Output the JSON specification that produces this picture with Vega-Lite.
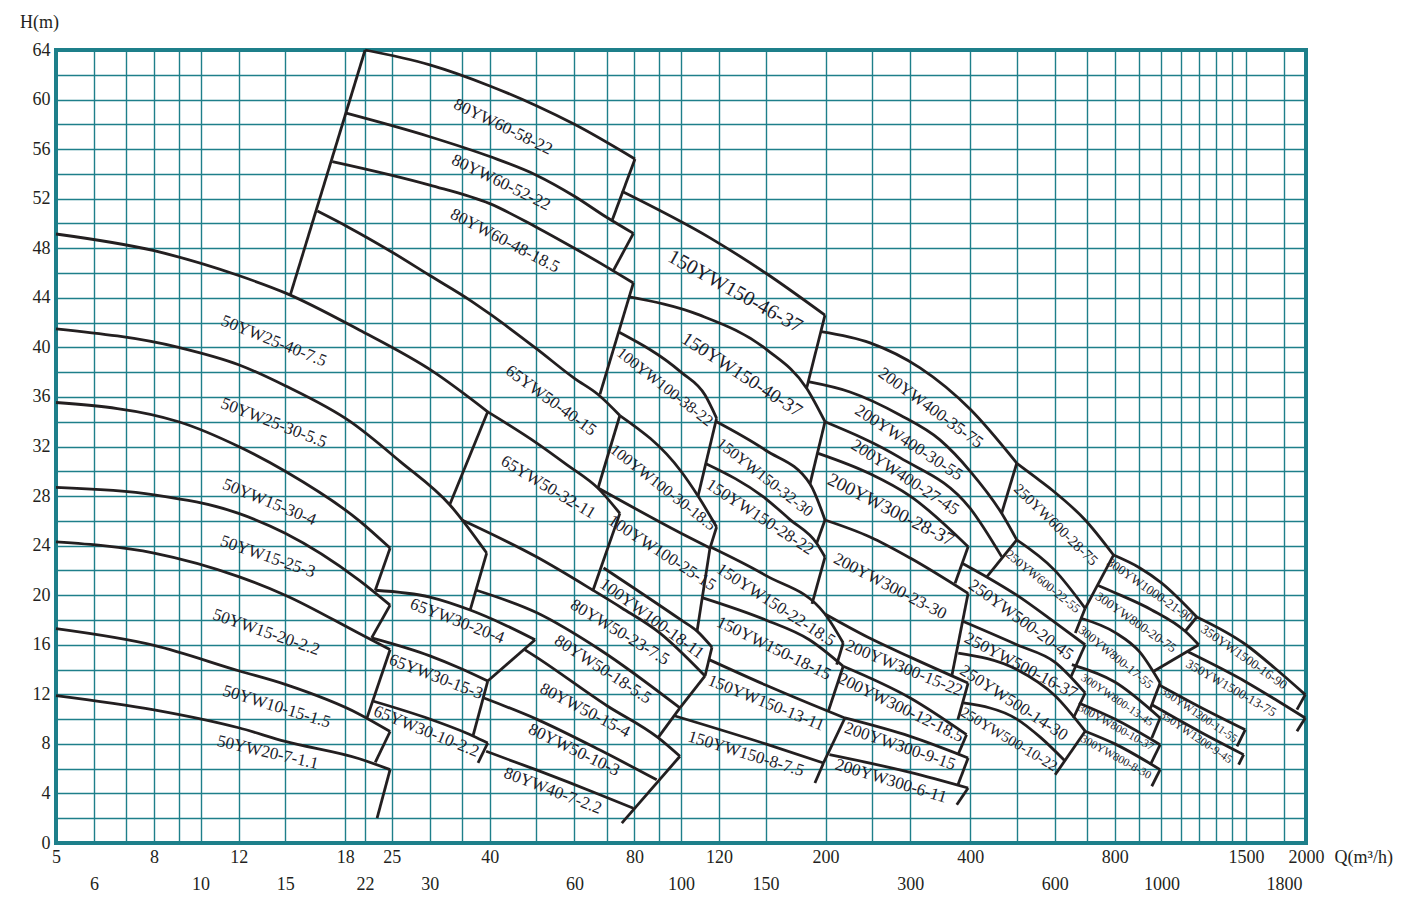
{
"$schema":"https://vega.github.io/schema/vega-lite/v6.json",
"width":1250,"height":793,
"autosize":{"type":"none"},
"padding":{"left":56,"top":50,"right":106,"bottom":75},
"background":"white",
"config":{"font":"Liberation Serif","view":{"stroke":"#1e7f8a","strokeWidth":4},"text":{"font":"Liberation Serif","color":"#1c1c2a"}},
"datasets":{
"lines":[
{"id":"C1","k":"c","q":5,"h":49.15},{"id":"C1","k":"c","q":8,"h":47.8},{"id":"C1","k":"c","q":12,"h":45.8},{"id":"C1","k":"c","q":15,"h":44.4},{"id":"C1","k":"c","q":21.4,"h":41.4},{"id":"C1","k":"c","q":30.6,"h":38.0},{"id":"C1","k":"c","q":39.6,"h":34.8},
{"id":"C2","k":"c","q":5,"h":41.5},{"id":"C2","k":"c","q":9,"h":40.0},{"id":"C2","k":"c","q":12,"h":38.6},{"id":"C2","k":"c","q":15,"h":36.9},{"id":"C2","k":"c","q":20.5,"h":34.0},{"id":"C2","k":"c","q":26,"h":30.8},{"id":"C2","k":"c","q":33,"h":27.3},{"id":"C2","k":"c","q":39.4,"h":23.4},
{"id":"C3","k":"c","q":5,"h":35.55},{"id":"C3","k":"c","q":9,"h":34.0},{"id":"C3","k":"c","q":12,"h":32.0},{"id":"C3","k":"c","q":15,"h":30.0},{"id":"C3","k":"c","q":21.4,"h":26.0},{"id":"C3","k":"c","q":24.8,"h":23.8},
{"id":"C4","k":"c","q":5,"h":28.7},{"id":"C4","k":"c","q":8,"h":28.1},{"id":"C4","k":"c","q":12,"h":26.6},{"id":"C4","k":"c","q":15,"h":25.0},{"id":"C4","k":"c","q":21.4,"h":21.2},{"id":"C4","k":"c","q":24.8,"h":19.2},
{"id":"C5","k":"c","q":5,"h":24.3},{"id":"C5","k":"c","q":8,"h":23.4},{"id":"C5","k":"c","q":12,"h":21.5},{"id":"C5","k":"c","q":15,"h":20.0},{"id":"C5","k":"c","q":21.4,"h":16.9},{"id":"C5","k":"c","q":24.8,"h":15.6},
{"id":"C6","k":"c","q":5,"h":17.3},{"id":"C6","k":"c","q":8,"h":15.95},{"id":"C6","k":"c","q":12,"h":13.9},{"id":"C6","k":"c","q":15,"h":12.8},{"id":"C6","k":"c","q":21.4,"h":10.4},{"id":"C6","k":"c","q":24.8,"h":9.0},
{"id":"C7","k":"c","q":5,"h":11.9},{"id":"C7","k":"c","q":8,"h":10.75},{"id":"C7","k":"c","q":12,"h":9.3},{"id":"C7","k":"c","q":15,"h":8.2},{"id":"C7","k":"c","q":21.4,"h":6.8},{"id":"C7","k":"c","q":24.8,"h":5.92},
{"id":"T1","k":"c","q":22,"h":64},{"id":"T1","k":"c","q":30,"h":62.8},{"id":"T1","k":"c","q":40,"h":61.1},{"id":"T1","k":"c","q":50,"h":59.5},{"id":"T1","k":"c","q":60,"h":58.0},{"id":"T1","k":"c","q":80.2,"h":55.2},
{"id":"T2","k":"c","q":20.1,"h":58.9},{"id":"T2","k":"c","q":30,"h":57.0},{"id":"T2","k":"c","q":40,"h":55.4},{"id":"T2","k":"c","q":50,"h":53.9},{"id":"T2","k":"c","q":60,"h":52.2},{"id":"T2","k":"c","q":70,"h":50.5},{"id":"T2","k":"c","q":79.6,"h":49.2},
{"id":"T3","k":"c","q":18.8,"h":55.0},{"id":"T3","k":"c","q":30,"h":53.1},{"id":"T3","k":"c","q":40,"h":51.6},{"id":"T3","k":"c","q":50,"h":49.7},{"id":"T3","k":"c","q":60,"h":48.0},{"id":"T3","k":"c","q":70,"h":46.5},{"id":"T3","k":"c","q":79.6,"h":45.2},
{"id":"A1","k":"c","q":17.5,"h":51.0},{"id":"A1","k":"c","q":20.3,"h":49.7},{"id":"A1","k":"c","q":25,"h":47.7},{"id":"A1","k":"c","q":30,"h":45.8},{"id":"A1","k":"c","q":36.4,"h":43.8},{"id":"A1","k":"c","q":40,"h":42.7},{"id":"A1","k":"c","q":50,"h":39.9},{"id":"A1","k":"c","q":60,"h":37.5},{"id":"A1","k":"c","q":67.2,"h":36.2},{"id":"A1","k":"c","q":74.6,"h":34.5},
{"id":"A2","k":"c","q":39.6,"h":34.8},{"id":"A2","k":"c","q":50,"h":32.3},{"id":"A2","k":"c","q":58,"h":30.5},{"id":"A2","k":"c","q":67.3,"h":28.6},{"id":"A2","k":"c","q":74.6,"h":26.6},
{"id":"D1","k":"c","q":23.1,"h":20.4},{"id":"D1","k":"c","q":30,"h":19.85},{"id":"D1","k":"c","q":36.4,"h":18.8},{"id":"D1","k":"c","q":43,"h":17.6},{"id":"D1","k":"c","q":49.7,"h":16.4},
{"id":"D2","k":"c","q":22.7,"h":16.55},{"id":"D2","k":"c","q":30,"h":15.1},{"id":"D2","k":"c","q":34.7,"h":14.1},{"id":"D2","k":"c","q":39.6,"h":13.07},
{"id":"D3","k":"c","q":22.9,"h":11.44},{"id":"D3","k":"c","q":30,"h":10.0},{"id":"D3","k":"c","q":36.9,"h":8.64},{"id":"D3","k":"c","q":39.6,"h":8.07},
{"id":"E1","k":"c","q":35,"h":26.07},{"id":"E1","k":"c","q":50,"h":23.1},{"id":"E1","k":"c","q":65.6,"h":20.4},{"id":"E1","k":"c","q":75.3,"h":18.97},{"id":"E1","k":"c","q":90,"h":17.0},{"id":"E1","k":"c","q":112.2,"h":13.48},
{"id":"E2","k":"c","q":37.5,"h":20.4},{"id":"E2","k":"c","q":50,"h":18.6},{"id":"E2","k":"c","q":67.8,"h":15.6},{"id":"E2","k":"c","q":99.5,"h":10.9},
{"id":"E3","k":"c","q":47.3,"h":15.6},{"id":"E3","k":"c","q":50,"h":15.0},{"id":"E3","k":"c","q":70,"h":11.1},{"id":"E3","k":"c","q":89.6,"h":8.5},{"id":"E3","k":"c","q":99.5,"h":7.0},
{"id":"E4","k":"c","q":38.9,"h":11.7},{"id":"E4","k":"c","q":50,"h":10.0},{"id":"E4","k":"c","q":67.8,"h":7.5},{"id":"E4","k":"c","q":89,"h":5.1},
{"id":"E5","k":"c","q":39.3,"h":7.4},{"id":"E5","k":"c","q":50,"h":5.9},{"id":"E5","k":"c","q":67.8,"h":3.9},{"id":"E5","k":"c","q":79.6,"h":2.8},
{"id":"F1","k":"c","q":74.2,"h":41.24},{"id":"F1","k":"c","q":100,"h":38.0},{"id":"F1","k":"c","q":112.2,"h":36.15},{"id":"F1","k":"c","q":118.6,"h":34.28},
{"id":"F2","k":"c","q":74.6,"h":34.5},{"id":"F2","k":"c","q":100,"h":30.0},{"id":"F2","k":"c","q":108.5,"h":28.0},{"id":"F2","k":"c","q":118.6,"h":25.5},
{"id":"F3","k":"c","q":67.2,"h":28.65},{"id":"F3","k":"c","q":100,"h":25.0},{"id":"F3","k":"c","q":114.9,"h":23.8},
{"id":"F4","k":"c","q":69,"h":22.2},{"id":"F4","k":"c","q":100,"h":18.0},{"id":"F4","k":"c","q":108,"h":17.1},{"id":"F4","k":"c","q":116,"h":15.8},
{"id":"G1","k":"c","q":75.3,"h":52.6},{"id":"G1","k":"c","q":114.9,"h":48.84},{"id":"G1","k":"c","q":150,"h":46.0},{"id":"G1","k":"c","q":199.4,"h":42.6},
{"id":"G2","k":"c","q":77.6,"h":44.09},{"id":"G2","k":"c","q":109.5,"h":42.6},{"id":"G2","k":"c","q":151,"h":39.8},{"id":"G2","k":"c","q":182.6,"h":36.7},{"id":"G2","k":"c","q":199.4,"h":34.0},
{"id":"G3","k":"c","q":118.6,"h":34.0},{"id":"G3","k":"c","q":150,"h":31.7},{"id":"G3","k":"c","q":185.6,"h":28.98},{"id":"G3","k":"c","q":199.4,"h":26.07},
{"id":"G4","k":"c","q":112.2,"h":30.65},{"id":"G4","k":"c","q":150,"h":27.8},{"id":"G4","k":"c","q":168.6,"h":26.1},{"id":"G4","k":"c","q":191.6,"h":24.19},{"id":"G4","k":"c","q":199.4,"h":23.08},
{"id":"G5","k":"c","q":114.9,"h":23.91},{"id":"G5","k":"c","q":150,"h":21.6},{"id":"G5","k":"c","q":199.4,"h":18.48},{"id":"G5","k":"c","q":217.6,"h":16.14},
{"id":"G6","k":"c","q":110.6,"h":19.8},{"id":"G6","k":"c","q":150,"h":18.0},{"id":"G6","k":"c","q":185,"h":16.4},{"id":"G6","k":"c","q":217.6,"h":14.26},
{"id":"G7","k":"c","q":114.4,"h":14.8},{"id":"G7","k":"c","q":150,"h":12.75},{"id":"G7","k":"c","q":202.6,"h":10.63},{"id":"G7","k":"c","q":219.4,"h":10.09},
{"id":"G8","k":"c","q":97.2,"h":10.25},{"id":"G8","k":"c","q":150,"h":8.0},{"id":"G8","k":"c","q":198,"h":6.46},
{"id":"H1","k":"c","q":195.6,"h":41.27},{"id":"H1","k":"c","q":247.5,"h":40.36},{"id":"H1","k":"c","q":314.5,"h":38.34},{"id":"H1","k":"c","q":400,"h":35.0},{"id":"H1","k":"c","q":500,"h":30.65},
{"id":"H2","k":"c","q":184,"h":37.23},{"id":"H2","k":"c","q":224.8,"h":36.4},{"id":"H2","k":"c","q":285.6,"h":34.54},{"id":"H2","k":"c","q":346,"h":32.53},{"id":"H2","k":"c","q":400,"h":30.0},{"id":"H2","k":"c","q":465,"h":26.61},{"id":"H2","k":"c","q":500,"h":24.46},
{"id":"H3","k":"c","q":199.4,"h":34.0},{"id":"H3","k":"c","q":285.6,"h":31.1},{"id":"H3","k":"c","q":400,"h":27.0},{"id":"H3","k":"c","q":465,"h":23.11},
{"id":"H4","k":"c","q":193,"h":31.45},{"id":"H4","k":"c","q":247.5,"h":29.8},{"id":"H4","k":"c","q":300,"h":28.0},{"id":"H4","k":"c","q":396,"h":23.91},
{"id":"H5","k":"c","q":199.4,"h":26.07},{"id":"H5","k":"c","q":247.5,"h":24.7},{"id":"H5","k":"c","q":300,"h":23.0},{"id":"H5","k":"c","q":396,"h":20.15},
{"id":"H6","k":"c","q":199.4,"h":18.48},{"id":"H6","k":"c","q":245,"h":16.6},{"id":"H6","k":"c","q":300,"h":15.0},{"id":"H6","k":"c","q":396,"h":12.91},
{"id":"H7","k":"c","q":217.6,"h":14.26},{"id":"H7","k":"c","q":300,"h":11.7},{"id":"H7","k":"c","q":393,"h":8.74},
{"id":"H8","k":"c","q":219.4,"h":10.09},{"id":"H8","k":"c","q":300,"h":8.6},{"id":"H8","k":"c","q":396,"h":6.86},
{"id":"H9","k":"c","q":203.7,"h":7.13},{"id":"H9","k":"c","q":300,"h":5.7},{"id":"H9","k":"c","q":396,"h":4.44},
{"id":"I1","k":"c","q":500,"h":30.65},{"id":"I1","k":"c","q":543,"h":29.6},{"id":"I1","k":"c","q":592,"h":28.49},{"id":"I1","k":"c","q":694,"h":26.07},{"id":"I1","k":"c","q":795,"h":23.24},
{"id":"I2","k":"c","q":500,"h":24.46},{"id":"I2","k":"c","q":600,"h":22.0},{"id":"I2","k":"c","q":694,"h":18.94},
{"id":"I3","k":"c","q":384,"h":22.6},{"id":"I3","k":"c","q":433,"h":21.47},{"id":"I3","k":"c","q":500,"h":20.0},{"id":"I3","k":"c","q":600,"h":17.8},{"id":"I3","k":"c","q":694,"h":16.0},
{"id":"I4","k":"c","q":386,"h":17.89},{"id":"I4","k":"c","q":500,"h":16.0},{"id":"I4","k":"c","q":600,"h":14.6},{"id":"I4","k":"c","q":694,"h":12.11},
{"id":"I5","k":"c","q":377.6,"h":15.33},{"id":"I5","k":"c","q":500,"h":14.0},{"id":"I5","k":"c","q":600,"h":11.9},{"id":"I5","k":"c","q":694,"h":9.02},
{"id":"I6","k":"c","q":387,"h":11.3},{"id":"I6","k":"c","q":500,"h":10.0},{"id":"I6","k":"c","q":561,"h":8.5},{"id":"I6","k":"c","q":631,"h":6.59},
{"id":"J1","k":"c","q":795,"h":23.24},{"id":"J1","k":"c","q":902,"h":22.2},{"id":"J1","k":"c","q":1000,"h":21.0},{"id":"J1","k":"c","q":1185,"h":18.24},
{"id":"J2","k":"c","q":734,"h":20.82},{"id":"J2","k":"c","q":800,"h":20.2},{"id":"J2","k":"c","q":955,"h":18.81},{"id":"J2","k":"c","q":1121,"h":17.09},{"id":"J2","k":"c","q":1196,"h":16.0},
{"id":"J3","k":"c","q":678,"h":18.16},{"id":"J3","k":"c","q":800,"h":17.0},{"id":"J3","k":"c","q":902,"h":15.4},{"id":"J3","k":"c","q":994,"h":12.91},
{"id":"J4","k":"c","q":651,"h":14.4},{"id":"J4","k":"c","q":800,"h":13.0},{"id":"J4","k":"c","q":994,"h":10.09},
{"id":"J5","k":"c","q":673,"h":11.3},{"id":"J5","k":"c","q":800,"h":10.0},{"id":"J5","k":"c","q":994,"h":7.93},
{"id":"J6","k":"c","q":694,"h":9.02},{"id":"J6","k":"c","q":800,"h":8.0},{"id":"J6","k":"c","q":994,"h":5.92},
{"id":"K1","k":"c","q":1185,"h":18.24},{"id":"K1","k":"c","q":1500,"h":16.0},{"id":"K1","k":"c","q":1724,"h":14.1},{"id":"K1","k":"c","q":1993,"h":11.97},
{"id":"K2","k":"c","q":1130,"h":15.47},{"id":"K2","k":"c","q":1500,"h":13.0},{"id":"K2","k":"c","q":1724,"h":11.6},{"id":"K2","k":"c","q":1993,"h":10.09},
{"id":"K3","k":"c","q":987,"h":12.78},{"id":"K3","k":"c","q":1200,"h":11.0},{"id":"K3","k":"c","q":1495,"h":9.14},
{"id":"K4","k":"c","q":955,"h":11.16},{"id":"K4","k":"c","q":1200,"h":9.0},{"id":"K4","k":"c","q":1483,"h":7.13},
{"id":"L80","k":"e","q":15.35,"h":44.15},{"id":"L80","k":"e","q":22.0,"h":64.0},
{"id":"Z1a","k":"e","q":39.6,"h":34.8},{"id":"Z1a","k":"e","q":33.0,"h":27.3},
{"id":"Z1b","k":"e","q":39.4,"h":23.4},{"id":"Z1b","k":"e","q":36.4,"h":18.8},
{"id":"Z2a","k":"e","q":24.8,"h":23.8},{"id":"Z2a","k":"e","q":23.1,"h":20.4},
{"id":"Z2b","k":"e","q":24.8,"h":19.2},{"id":"Z2b","k":"e","q":22.7,"h":16.55},
{"id":"Z2c","k":"e","q":24.8,"h":15.6},{"id":"Z2c","k":"e","q":22.2,"h":10.1},
{"id":"Z2d","k":"e","q":24.8,"h":9.0},{"id":"Z2d","k":"e","q":23.1,"h":6.5},
{"id":"Z2e","k":"e","q":24.8,"h":5.92},{"id":"Z2e","k":"e","q":23.3,"h":2.0},
{"id":"Z80a","k":"e","q":80.2,"h":55.2},{"id":"Z80a","k":"e","q":71.8,"h":50.2},
{"id":"Z80b","k":"e","q":79.6,"h":49.2},{"id":"Z80b","k":"e","q":72.3,"h":46.2},
{"id":"Z80c","k":"e","q":79.6,"h":45.2},{"id":"Z80c","k":"e","q":67.8,"h":36.2},
{"id":"Z65a","k":"e","q":74.6,"h":34.5},{"id":"Z65a","k":"e","q":67.2,"h":28.65},
{"id":"Z65b","k":"e","q":74.6,"h":26.6},{"id":"Z65b","k":"e","q":65.6,"h":20.4},
{"id":"Z3a","k":"e","q":49.7,"h":16.4},{"id":"Z3a","k":"e","q":39.6,"h":13.07},
{"id":"Z3b","k":"e","q":39.6,"h":13.07},{"id":"Z3b","k":"e","q":36.9,"h":8.64},
{"id":"Z3c","k":"e","q":39.6,"h":8.07},{"id":"Z3c","k":"e","q":37.8,"h":6.46},
{"id":"Z50a","k":"e","q":112.2,"h":13.48},{"id":"Z50a","k":"e","q":99.5,"h":10.9},
{"id":"Z50b","k":"e","q":99.5,"h":10.9},{"id":"Z50b","k":"e","q":89.6,"h":8.5},
{"id":"Z50c","k":"e","q":99.5,"h":7.0},{"id":"Z50c","k":"e","q":75.3,"h":1.6},
{"id":"ZFa","k":"e","q":118.6,"h":34.28},{"id":"ZFa","k":"e","q":108.5,"h":28.0},
{"id":"ZFb","k":"e","q":118.6,"h":25.5},{"id":"ZFb","k":"e","q":114.9,"h":23.8},
{"id":"ZFc","k":"e","q":114.9,"h":23.8},{"id":"ZFc","k":"e","q":108,"h":17.1},
{"id":"ZFd","k":"e","q":116,"h":15.8},{"id":"ZFd","k":"e","q":112.2,"h":13.48},
{"id":"ZG1","k":"e","q":199.4,"h":42.6},{"id":"ZG1","k":"e","q":182.6,"h":36.7},
{"id":"ZG2","k":"e","q":199.4,"h":34.0},{"id":"ZG2","k":"e","q":185.6,"h":28.98},
{"id":"ZG3","k":"e","q":199.4,"h":26.07},{"id":"ZG3","k":"e","q":191.6,"h":24.19},
{"id":"ZG4","k":"e","q":199.4,"h":23.08},{"id":"ZG4","k":"e","q":187.4,"h":19.29},
{"id":"ZG5","k":"e","q":217.6,"h":16.14},{"id":"ZG5","k":"e","q":210.9,"h":14.39},
{"id":"ZG6","k":"e","q":217.6,"h":14.26},{"id":"ZG6","k":"e","q":202.6,"h":10.63},
{"id":"ZG7","k":"e","q":219.4,"h":10.09},{"id":"ZG7","k":"e","q":198,"h":6.46},
{"id":"ZG8","k":"e","q":198,"h":6.46},{"id":"ZG8","k":"e","q":190,"h":4.84},
{"id":"ZH1","k":"e","q":500,"h":30.65},{"id":"ZH1","k":"e","q":465,"h":26.61},
{"id":"ZH2","k":"e","q":500,"h":24.46},{"id":"ZH2","k":"e","q":433,"h":21.47},
{"id":"ZH3","k":"e","q":396,"h":23.91},{"id":"ZH3","k":"e","q":372,"h":20.96},
{"id":"ZH4","k":"e","q":396,"h":20.15},{"id":"ZH4","k":"e","q":366,"h":13.44},
{"id":"ZH5","k":"e","q":396,"h":12.91},{"id":"ZH5","k":"e","q":377,"h":9.95},
{"id":"ZH6","k":"e","q":393,"h":8.74},{"id":"ZH6","k":"e","q":377,"h":7.1},
{"id":"ZH7","k":"e","q":396,"h":6.86},{"id":"ZH7","k":"e","q":377,"h":4.68},
{"id":"ZH8","k":"e","q":396,"h":4.44},{"id":"ZH8","k":"e","q":375,"h":3.09},
{"id":"ZI1","k":"e","q":795,"h":23.24},{"id":"ZI1","k":"e","q":694,"h":18.94},
{"id":"ZI2","k":"e","q":694,"h":18.94},{"id":"ZI2","k":"e","q":662,"h":16.95},
{"id":"ZI3","k":"e","q":694,"h":16.0},{"id":"ZI3","k":"e","q":648,"h":13.4},
{"id":"ZI4","k":"e","q":694,"h":12.11},{"id":"ZI4","k":"e","q":656,"h":10.09},
{"id":"ZI5","k":"e","q":694,"h":9.02},{"id":"ZI5","k":"e","q":601,"h":5.51},
{"id":"ZJ1","k":"e","q":1185,"h":18.24},{"id":"ZJ1","k":"e","q":1121,"h":17.09},
{"id":"ZJ2","k":"e","q":1196,"h":16.0},{"id":"ZJ2","k":"e","q":964,"h":13.86},
{"id":"ZJ3","k":"e","q":994,"h":12.91},{"id":"ZJ3","k":"e","q":946,"h":10.73},
{"id":"ZJ4","k":"e","q":994,"h":10.09},{"id":"ZJ4","k":"e","q":955,"h":8.47},
{"id":"ZJ5","k":"e","q":994,"h":7.93},{"id":"ZJ5","k":"e","q":948,"h":6.3},
{"id":"ZJ6","k":"e","q":994,"h":5.92},{"id":"ZJ6","k":"e","q":955,"h":4.58},
{"id":"ZK1","k":"e","q":1993,"h":11.97},{"id":"ZK1","k":"e","q":1915,"h":10.76},
{"id":"ZK2","k":"e","q":1993,"h":10.09},{"id":"ZK2","k":"e","q":1915,"h":9.02},
{"id":"ZK3","k":"e","q":1495,"h":9.14},{"id":"ZK3","k":"e","q":1437,"h":7.8},
{"id":"ZK4","k":"e","q":1483,"h":7.13},{"id":"ZK4","k":"e","q":1448,"h":6.32}
],
"labels":[
{"m":"50YW25-40-7.5","q":14.2,"h":40.5},{"m":"50YW25-30-5.5","q":14.2,"h":33.9},{"m":"50YW15-30-4","q":13.9,"h":27.5},{"m":"50YW15-25-3","q":13.8,"h":23.1},{"m":"50YW15-20-2.2","q":13.7,"h":17.0},{"m":"50YW10-15-1.5","q":14.4,"h":11.0},{"m":"50YW20-7-1.1","q":13.8,"h":7.3},
{"m":"80YW60-58-22","q":42.6,"h":57.8},{"m":"80YW60-52-22","q":42.2,"h":53.3},{"m":"80YW60-48-18.5","q":43.0,"h":48.6},{"m":"65YW50-40-15","q":53.6,"h":35.7},{"m":"65YW50-32-11","q":52.9,"h":28.7},
{"m":"150YW150-46-37","q":129.6,"h":44.5},{"m":"150YW150-40-37","q":134,"h":37.8},{"m":"100YW100-38-22","q":92.6,"h":36.8},{"m":"100YW100-30-18.5","q":91.7,"h":28.7},{"m":"100YW100-25-15","q":91.3,"h":23.4},{"m":"100YW100-18-11","q":87.0,"h":18.1},
{"m":"150YW150-32-30","q":149.5,"h":29.5},{"m":"150YW150-28-22","q":146,"h":26.3},{"m":"150YW150-22-18.5","q":157.6,"h":19.2},{"m":"150YW150-18-15","q":156,"h":15.7},{"m":"150YW150-13-11","q":150.3,"h":11.3},{"m":"150YW150-8-7.5","q":136.5,"h":7.2},
{"m":"80YW50-23-7.5","q":74.6,"h":17.0},{"m":"80YW50-18-5.5","q":68.8,"h":14.0},{"m":"80YW50-15-4","q":63.1,"h":10.7},{"m":"80YW50-10-3","q":59.9,"h":7.5},{"m":"80YW40-7-2.2","q":54.1,"h":4.2},
{"m":"65YW30-20-4","q":34.2,"h":17.9},{"m":"65YW30-15-3","q":30.9,"h":13.4},{"m":"65YW30-10-2.2","q":29.5,"h":9.0},
{"m":"200YW400-35-75","q":331,"h":35.1},{"m":"200YW400-30-55","q":298,"h":32.3},{"m":"200YW400-27-45","q":292.7,"h":29.5},{"m":"200YW300-28-37","q":273.6,"h":26.9},{"m":"200YW300-23-30","q":272.3,"h":20.7},{"m":"200YW300-15-22","q":291.3,"h":14.1},{"m":"200YW300-12-18.5","q":287,"h":10.9},{"m":"200YW300-9-15","q":285.8,"h":7.8},{"m":"200YW300-6-11","q":273.6,"h":5.0},
{"m":"250YW600-28-75","q":603.5,"h":25.7},{"m":"250YW600-22-55","q":567,"h":21.1},{"m":"250YW500-20-45","q":510,"h":18.0},{"m":"250YW500-16-37","q":510,"h":14.3},{"m":"250YW500-14-30","q":493,"h":11.3},{"m":"250YW500-10-22","q":482,"h":8.4},
{"m":"300YW1000-21-90","q":947,"h":20.4},{"m":"300YW800-20-75","q":885,"h":17.8},{"m":"300YW800-17-55","q":804,"h":15.0},{"m":"300YW800-13-45","q":808,"h":11.5},{"m":"300YW800-10-37","q":804,"h":9.3},{"m":"300YW800-8-30","q":804,"h":6.9},
{"m":"350YW1500-16-90","q":1486,"h":15.0},{"m":"350YW1500-13-75","q":1396,"h":12.5},{"m":"350YW1200-11-55","q":1197,"h":10.3},{"m":"350YW1200-9-45","q":1180,"h":8.5}
]},
"encoding":{
"x":{"field":"q","type":"quantitative","scale":{"type":"log","domain":[5,2000]},
 "axis":{"values":[5,6,7,8,9,10,12,15,20,22,25,30,35,40,50,60,70,80,90,100,120,150,200,250,300,400,500,600,700,800,900,1000,1100,1200,1300,1400,1500,1800,2000],
 "labelExpr":"indexof([5,8,12,25,40,80,120,200,400,800,1500,2000], datum.value) >= 0 ? '' + datum.value : (datum.value == 20 ? '18' : (indexof([6,10,15,22,30,60,100,150,300,600,1000,1800], datum.value) >= 0 ? ['', '' + datum.value] : ''))",
 "grid":true,"gridColor":"#1e7f8a","gridWidth":1.4,"gridOpacity":1,"ticks":false,"domain":false,
 "labelFont":"Liberation Serif","labelFontSize":18,"labelColor":"#231f20","labelBaseline":"top","labelPadding":5,"labelLineHeight":27,"labelOverlap":false,"labelFlush":false,"labelBound":false,
 "title":"Q(m³/h)","titleFont":"Liberation Serif","titleFontSize":18,"titleFontWeight":"normal","titleColor":"#231f20","titleX":1278,"titleY":14,"titleAlign":"left","titleBaseline":"middle","titleAngle":0}},
"y":{"field":"h","type":"quantitative","scale":{"domain":[0,64]},
 "axis":{"values":[0,2,4,6,8,10,12,14,16,18,20,22,24,26,28,30,32,34,36,38,40,42,44,46,48,50,52,54,56,58,60,62,64],
 "labelExpr":"datum.value % 4 == 0 ? '' + datum.value : ''",
 "grid":true,"gridColor":"#1e7f8a","gridWidth":1.4,"gridOpacity":1,"ticks":false,"domain":false,
 "labelFont":"Liberation Serif","labelFontSize":18,"labelColor":"#231f20","labelPadding":6,"labelOverlap":false,"labelFlush":false,
 "title":"H(m)","titleFont":"Liberation Serif","titleFontSize":18,"titleFontWeight":"normal","titleColor":"#231f20","titleAngle":0,"titleX":-17,"titleY":-28,"titleAlign":"center","titleBaseline":"middle"}}
},
"layer":[
{"data":{"name":"lines"},"transform":[{"filter":"datum.k == 'c'"}],"mark":{"type":"line","interpolate":"monotone","color":"#231f20","strokeWidth":2.8,"strokeJoin":"round"},"encoding":{"detail":{"field":"id"}}},
{"data":{"name":"lines"},"transform":[{"filter":"datum.k == 'e'"}],"mark":{"type":"line","color":"#231f20","strokeWidth":2.8,"strokeJoin":"round"},"encoding":{"detail":{"field":"id"}}},
{"data":{"name":"labels"},"transform":[{"filter":{"field":"m","oneOf":["50YW20-7-1.1"]}}],"mark":{"type":"text","angle":13,"fontSize":17},"encoding":{"text":{"field":"m"}}},
{"data":{"name":"labels"},"transform":[{"filter":{"field":"m","oneOf":["50YW10-15-1.5","150YW150-8-7.5","200YW300-6-11"]}}],"mark":{"type":"text","angle":17,"fontSize":17},"encoding":{"text":{"field":"m"}}},
{"data":{"name":"labels"},"transform":[{"filter":{"field":"m","oneOf":["50YW15-25-3","50YW15-20-2.2","200YW300-9-15"]}}],"mark":{"type":"text","angle":19,"fontSize":17},"encoding":{"text":{"field":"m"}}},
{"data":{"name":"labels"},"transform":[{"filter":{"field":"m","oneOf":["65YW30-20-4","80YW40-7-2.2","50YW25-30-5.5","65YW30-15-3"]}}],"mark":{"type":"text","angle":21,"fontSize":17},"encoding":{"text":{"field":"m"}}},
{"data":{"name":"labels"},"transform":[{"filter":{"field":"m","oneOf":["50YW25-40-7.5","50YW15-30-4","65YW30-10-2.2","150YW150-13-11","200YW300-15-22"]}}],"mark":{"type":"text","angle":22,"fontSize":17},"encoding":{"text":{"field":"m"}}},
{"data":{"name":"labels"},"transform":[{"filter":{"field":"m","oneOf":["80YW60-52-22","80YW60-58-22","80YW50-10-3","150YW150-18-15","200YW300-12-18.5"]}}],"mark":{"type":"text","angle":26,"fontSize":17},"encoding":{"text":{"field":"m"}}},
{"data":{"name":"labels"},"transform":[{"filter":{"field":"m","oneOf":["200YW300-23-30","250YW500-16-37","80YW60-48-18.5","80YW50-15-4"]}}],"mark":{"type":"text","angle":27.5,"fontSize":17},"encoding":{"text":{"field":"m"}}},
{"data":{"name":"labels"},"transform":[{"filter":{"field":"m","oneOf":["200YW300-28-37"]}}],"mark":{"type":"text","angle":27,"fontSize":19},"encoding":{"text":{"field":"m"}}},
{"data":{"name":"labels"},"transform":[{"filter":{"field":"m","oneOf":["150YW150-46-37"]}}],"mark":{"type":"text","angle":29,"fontSize":20.5},"encoding":{"text":{"field":"m"}}},
{"data":{"name":"labels"},"transform":[{"filter":{"field":"m","oneOf":["80YW50-23-7.5","65YW50-32-11"]}}],"mark":{"type":"text","angle":31,"fontSize":17},"encoding":{"text":{"field":"m"}}},
{"data":{"name":"labels"},"transform":[{"filter":{"field":"m","oneOf":["200YW400-30-55","100YW100-25-15","200YW400-27-45","250YW500-14-30","150YW150-22-18.5","150YW150-28-22","80YW50-18-5.5"]}}],"mark":{"type":"text","angle":33,"fontSize":17},"encoding":{"text":{"field":"m"}}},
{"data":{"name":"labels"},"transform":[{"filter":{"field":"m","oneOf":["150YW150-40-37"]}}],"mark":{"type":"text","angle":33,"fontSize":19},"encoding":{"text":{"field":"m"}}},
{"data":{"name":"labels"},"transform":[{"filter":{"field":"m","oneOf":["200YW400-35-75","100YW100-18-11","250YW500-20-45","65YW50-40-15"]}}],"mark":{"type":"text","angle":36,"fontSize":17},"encoding":{"text":{"field":"m"}}},
{"data":{"name":"labels"},"transform":[{"filter":{"field":"m","oneOf":["100YW100-38-22","150YW150-32-30","100YW100-30-18.5"]}}],"mark":{"type":"text","angle":38,"fontSize":16},"encoding":{"text":{"field":"m"}}},
{"data":{"name":"labels"},"transform":[{"filter":{"field":"m","oneOf":["250YW600-28-75"]}}],"mark":{"type":"text","angle":44,"fontSize":15},"encoding":{"text":{"field":"m"}}},
{"data":{"name":"labels"},"transform":[{"filter":{"field":"m","oneOf":["250YW500-10-22"]}}],"mark":{"type":"text","angle":31,"fontSize":15},"encoding":{"text":{"field":"m"}}},
{"data":{"name":"labels"},"transform":[{"filter":{"field":"m","oneOf":["250YW600-22-55","300YW800-17-55"]}}],"mark":{"type":"text","angle":39,"fontSize":12.5},"encoding":{"text":{"field":"m"}}},
{"data":{"name":"labels"},"transform":[{"filter":{"field":"m","oneOf":["300YW1000-21-90","300YW800-20-75","350YW1500-16-90"]}}],"mark":{"type":"text","angle":35,"fontSize":13},"encoding":{"text":{"field":"m"}}},
{"data":{"name":"labels"},"transform":[{"filter":{"field":"m","oneOf":["350YW1500-13-75"]}}],"mark":{"type":"text","angle":30,"fontSize":13},"encoding":{"text":{"field":"m"}}},
{"data":{"name":"labels"},"transform":[{"filter":{"field":"m","oneOf":["300YW800-13-45","350YW1200-9-45","350YW1200-11-55"]}}],"mark":{"type":"text","angle":34,"fontSize":11.5},"encoding":{"text":{"field":"m"}}},
{"data":{"name":"labels"},"transform":[{"filter":{"field":"m","oneOf":["300YW800-10-37","300YW800-8-30"]}}],"mark":{"type":"text","angle":29,"fontSize":11.5},"encoding":{"text":{"field":"m"}}}
]
}
